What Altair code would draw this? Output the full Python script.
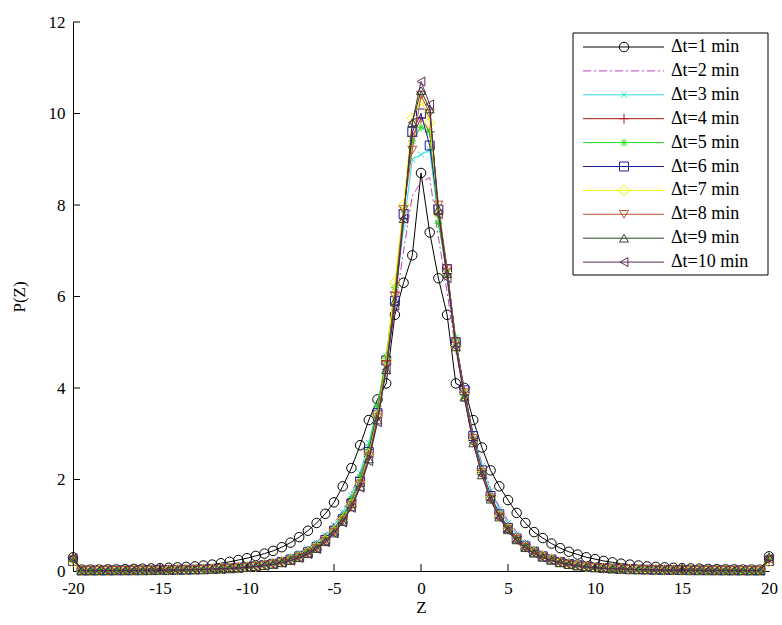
import altair as alt
import pandas as pd

Z = [-20.0, -19.5, -19.0, -18.5, -18.0, -17.5, -17.0, -16.5, -16.0, -15.5,
     -15.0, -14.5, -14.0, -13.5, -13.0, -12.5, -12.0, -11.5, -11.0, -10.5,
     -10.0, -9.5, -9.0, -8.5, -8.0, -7.5, -7.0, -6.5, -6.0, -5.5,
     -5.0, -4.5, -4.0, -3.5, -3.0, -2.5, -2.0, -1.5, -1.0, -0.5,
     0.0,
     0.5, 1.0, 1.5, 2.0, 2.5, 3.0, 3.5, 4.0, 4.5, 5.0,
     5.5, 6.0, 6.5, 7.0, 7.5, 8.0, 8.5, 9.0, 9.5, 10.0,
     10.5, 11.0, 11.5, 12.0, 12.5, 13.0, 13.5, 14.0, 14.5, 15.0,
     15.5, 16.0, 16.5, 17.0, 17.5, 18.0, 18.5, 19.0, 19.5, 20.0]

LABELS = ["Δt=1 min", "Δt=2 min", "Δt=3 min", "Δt=4 min", "Δt=5 min",
          "Δt=6 min", "Δt=7 min", "Δt=8 min", "Δt=9 min", "Δt=10 min"]

S1 = ([0.30, 0.03, 0.03, 0.03, 0.035, 0.035, 0.04, 0.045, 0.05, 0.055, 0.06, 0.07, 0.08, 0.09, 0.1, 0.12, 0.14, 0.17, 0.2, 0.24,
       0.28, 0.33, 0.38, 0.44, 0.52, 0.62, 0.74, 0.88, 1.05, 1.25, 1.5, 1.85, 2.25, 2.75, 3.3, 3.75, 4.1, 5.6, 6.3, 6.9]
      + [8.7]
      + [7.4, 6.4, 5.6, 4.1, 4.0, 3.3, 2.7, 2.2, 1.85, 1.55, 1.27, 1.05, 0.85, 0.72, 0.6, 0.5, 0.42, 0.36, 0.3, 0.26,
         0.22, 0.19, 0.16, 0.14, 0.12, 0.1, 0.09, 0.08, 0.07, 0.06, 0.055, 0.05, 0.045, 0.04, 0.035, 0.035, 0.03, 0.03, 0.03, 0.32])

S2 = ([0.26, 0.013, 0.014, 0.015, 0.015, 0.016, 0.017, 0.018, 0.02, 0.022, 0.024, 0.027, 0.03, 0.034, 0.039, 0.045, 0.052, 0.062, 0.075, 0.09,
       0.11, 0.13, 0.16, 0.2, 0.25, 0.32, 0.4, 0.5, 0.64, 0.82, 1.05, 1.32, 1.7, 2.15, 2.75, 3.5, 4.5, 5.7, 7.0, 8.2]
      + [8.5]
      + [8.6, 7.3, 6.1, 4.8, 3.9, 3.0, 2.35, 1.8, 1.4, 1.1, 0.85, 0.66, 0.52, 0.41, 0.33, 0.26, 0.21, 0.17, 0.14, 0.11,
         0.09, 0.075, 0.062, 0.052, 0.045, 0.039, 0.034, 0.03, 0.027, 0.024, 0.022, 0.02, 0.018, 0.017, 0.016, 0.015, 0.014, 0.013, 0.012, 0.27])

S3 = ([0.25, 0.012, 0.013, 0.013, 0.014, 0.015, 0.016, 0.017, 0.019, 0.021, 0.023, 0.026, 0.029, 0.033, 0.038, 0.044, 0.052, 0.062, 0.075, 0.09,
       0.11, 0.13, 0.16, 0.2, 0.25, 0.31, 0.39, 0.49, 0.62, 0.78, 1.0, 1.28, 1.65, 2.15, 2.8, 3.6, 4.6, 5.9, 7.5, 9.0]
      + [9.1]
      + [9.2, 7.7, 6.4, 5.0, 3.9, 3.0, 2.3, 1.75, 1.35, 1.05, 0.8, 0.62, 0.48, 0.37, 0.29, 0.23, 0.18, 0.14, 0.11, 0.09,
         0.075, 0.062, 0.052, 0.045, 0.039, 0.034, 0.03, 0.027, 0.024, 0.022, 0.02, 0.018, 0.017, 0.016, 0.015, 0.014, 0.013, 0.012, 0.012, 0.3])

S4 = ([0.28, 0.011, 0.012, 0.012, 0.013, 0.014, 0.015, 0.016, 0.018, 0.02, 0.022, 0.024, 0.027, 0.03, 0.034, 0.04, 0.046, 0.054, 0.065, 0.078,
       0.094, 0.115, 0.14, 0.17, 0.21, 0.27, 0.34, 0.44, 0.56, 0.72, 0.92, 1.18, 1.55, 2.05, 2.65, 3.5, 4.6, 6.1, 7.9, 9.5]
      + [9.9]
      + [9.6, 7.8, 6.6, 5.0, 3.9, 2.9, 2.2, 1.65, 1.25, 0.96, 0.73, 0.56, 0.44, 0.34, 0.27, 0.21, 0.17, 0.135, 0.105, 0.085,
         0.07, 0.058, 0.048, 0.041, 0.036, 0.031, 0.028, 0.025, 0.022, 0.02, 0.018, 0.017, 0.016, 0.015, 0.014, 0.013, 0.012, 0.011, 0.011, 0.26])

S5 = ([0.24, 0.012, 0.012, 0.013, 0.014, 0.015, 0.016, 0.017, 0.018, 0.02, 0.022, 0.025, 0.028, 0.031, 0.035, 0.041, 0.048, 0.056, 0.067, 0.08,
       0.097, 0.118, 0.145, 0.178, 0.22, 0.28, 0.35, 0.45, 0.57, 0.73, 0.93, 1.2, 1.58, 2.05, 2.7, 3.6, 4.7, 6.2, 7.9, 9.4]
      + [9.7]
      + [9.6, 7.6, 6.5, 5.1, 3.8, 2.85, 2.15, 1.62, 1.23, 0.94, 0.71, 0.55, 0.43, 0.33, 0.26, 0.2, 0.16, 0.13, 0.1, 0.082,
         0.067, 0.056, 0.047, 0.04, 0.035, 0.031, 0.027, 0.024, 0.022, 0.02, 0.018, 0.017, 0.016, 0.015, 0.014, 0.013, 0.012, 0.012, 0.011, 0.29])

S6 = ([0.22, 0.01, 0.011, 0.011, 0.012, 0.013, 0.014, 0.015, 0.016, 0.018, 0.02, 0.022, 0.025, 0.028, 0.032, 0.037, 0.043, 0.05, 0.06, 0.072,
       0.087, 0.105, 0.128, 0.157, 0.195, 0.25, 0.32, 0.41, 0.53, 0.68, 0.88, 1.13, 1.48, 1.95, 2.6, 3.45, 4.6, 5.9, 7.8, 9.6]
      + [10.0]
      + [9.3, 7.9, 6.6, 5.0, 3.95, 2.95, 2.2, 1.64, 1.24, 0.94, 0.71, 0.54, 0.42, 0.32, 0.25, 0.195, 0.155, 0.125, 0.1, 0.08,
         0.065, 0.054, 0.045, 0.039, 0.034, 0.03, 0.026, 0.023, 0.021, 0.019, 0.017, 0.016, 0.015, 0.014, 0.013, 0.012, 0.012, 0.011, 0.01, 0.22])

S7 = ([0.2, 0.01, 0.01, 0.011, 0.011, 0.012, 0.013, 0.014, 0.015, 0.017, 0.019, 0.021, 0.024, 0.027, 0.031, 0.036, 0.042, 0.049, 0.058, 0.07,
       0.085, 0.103, 0.126, 0.155, 0.192, 0.245, 0.31, 0.4, 0.52, 0.67, 0.87, 1.12, 1.46, 1.92, 2.55, 3.4, 4.6, 6.3, 8.0, 9.9]
      + [10.3]
      + [9.8, 7.8, 6.5, 4.9, 3.85, 2.85, 2.15, 1.6, 1.2, 0.92, 0.7, 0.53, 0.41, 0.32, 0.25, 0.19, 0.15, 0.12, 0.095, 0.077,
         0.063, 0.052, 0.044, 0.038, 0.033, 0.029, 0.025, 0.022, 0.02, 0.018, 0.017, 0.016, 0.015, 0.014, 0.013, 0.012, 0.011, 0.011, 0.01, 0.2])

S8 = ([0.25, 0.01, 0.011, 0.011, 0.012, 0.012, 0.013, 0.014, 0.016, 0.017, 0.019, 0.021, 0.024, 0.027, 0.031, 0.035, 0.041, 0.048, 0.057, 0.068,
       0.082, 0.1, 0.122, 0.15, 0.186, 0.235, 0.3, 0.39, 0.5, 0.65, 0.85, 1.1, 1.43, 1.9, 2.5, 3.35, 4.5, 6.0, 7.9, 9.2]
      + [10.4]
      + [10.0, 8.0, 6.6, 5.0, 3.9, 2.9, 2.15, 1.6, 1.2, 0.91, 0.69, 0.52, 0.4, 0.31, 0.24, 0.185, 0.145, 0.115, 0.092, 0.075,
         0.062, 0.051, 0.043, 0.037, 0.032, 0.028, 0.025, 0.022, 0.02, 0.018, 0.016, 0.015, 0.014, 0.013, 0.012, 0.012, 0.011, 0.01, 0.01, 0.25])

S9 = ([0.3, 0.01, 0.01, 0.011, 0.011, 0.012, 0.013, 0.014, 0.015, 0.016, 0.018, 0.02, 0.023, 0.026, 0.03, 0.034, 0.04, 0.047, 0.055, 0.066,
       0.08, 0.097, 0.118, 0.145, 0.18, 0.23, 0.29, 0.38, 0.49, 0.64, 0.83, 1.08, 1.4, 1.85, 2.45, 3.3, 4.4, 5.9, 7.7, 9.8]
      + [10.5]
      + [10.1, 7.9, 6.5, 4.9, 3.8, 2.8, 2.1, 1.57, 1.18, 0.9, 0.68, 0.51, 0.39, 0.3, 0.235, 0.18, 0.14, 0.112, 0.09, 0.073,
         0.06, 0.05, 0.042, 0.036, 0.031, 0.027, 0.024, 0.021, 0.019, 0.017, 0.016, 0.015, 0.014, 0.013, 0.012, 0.011, 0.011, 0.01, 0.01, 0.31])

S10 = ([0.28, 0.01, 0.01, 0.01, 0.011, 0.012, 0.012, 0.013, 0.014, 0.016, 0.017, 0.019, 0.022, 0.025, 0.029, 0.033, 0.039, 0.046, 0.054, 0.065,
        0.078, 0.095, 0.116, 0.143, 0.178, 0.225, 0.285, 0.37, 0.48, 0.63, 0.82, 1.06, 1.38, 1.82, 2.4, 3.25, 4.4, 5.8, 7.7, 9.8]
       + [10.7]
       + [10.2, 7.8, 6.4, 4.9, 3.75, 2.8, 2.1, 1.55, 1.16, 0.88, 0.66, 0.5, 0.38, 0.29, 0.225, 0.175, 0.137, 0.108, 0.087, 0.07,
          0.058, 0.048, 0.041, 0.035, 0.03, 0.026, 0.023, 0.021, 0.019, 0.017, 0.016, 0.015, 0.014, 0.013, 0.012, 0.011, 0.011, 0.01, 0.01, 0.27])

SERIES = [S1, S2, S3, S4, S5, S6, S7, S8, S9, S10]

X_TICKS = [-20, -15, -10, -5, 0, 5, 10, 15, 20]
Y_TICKS = [0, 2, 4, 6, 8, 10, 12]

# ---- styles ----
COLORS = ["#000000", "#c040c0", "#30dede", "#b01a1a", "#20d820",
          "#1c1c98", "#f2f200", "#c0502a", "#2a4a2a", "#5a2a5a"]
X_PATH = "M-1,-1L1,1M-1,1L1,-1"
PLUS_PATH = "M-1,0L1,0M0,-1L0,1"
STAR_PATH = "M-1,0L1,0M0,-1L0,1M-0.7,-0.7L0.7,0.7M-0.7,0.7L0.7,-0.7"
SHAPES = ["circle", None, X_PATH, PLUS_PATH, STAR_PATH,
          "square", "diamond", "triangle-down", "triangle-up", "triangle-left"]
SIZES = [90, 0, 40, 100, 64, 80, 120, 80, 80, 80]

W, H = 696, 549
FONT = "Times New Roman, Liberation Serif, serif"
NUM_EXPR = "'' + datum.value"

xscale = alt.Scale(domain=[-20, 20], nice=False, zero=False)
yscale = alt.Scale(domain=[0, 12], nice=False, zero=True)
xaxis = alt.Axis(values=X_TICKS, ticks=False, grid=False, title="Z",
                 labelExpr=NUM_EXPR,
                 labelFont=FONT, labelFontSize=17, labelColor="black",
                 labelPadding=9, titleFont=FONT, titleFontSize=17,
                 titleFontWeight="normal", titleColor="black", titlePadding=3,
                 domainColor="black", domainWidth=1, labelFlush=False)
yaxis = alt.Axis(values=Y_TICKS, ticks=False, grid=False, title="P(Z)",
                 labelExpr=NUM_EXPR,
                 labelFont=FONT, labelFontSize=17, labelColor="black",
                 labelPadding=8, titleFont=FONT, titleFontSize=17,
                 titleFontWeight="normal", titleColor="black", titlePadding=20,
                 domainColor="black", domainWidth=1, labelFlush=False)

layers = []
for k, (lab, vals) in enumerate(zip(LABELS, SERIES)):
    assert len(vals) == len(Z), (lab, len(vals))
    d = pd.DataFrame({"z": Z, "p": vals, "series": lab})
    enc = dict(x=alt.X("z:Q", scale=xscale, axis=xaxis),
               y=alt.Y("p:Q", scale=yscale, axis=yaxis))
    line_kwargs = dict(color=COLORS[k], strokeWidth=1, clip=False)
    if k == 1:
        line_kwargs["strokeDash"] = [8, 3, 2, 3]
    layers.append(alt.Chart(d).mark_line(**line_kwargs).encode(**enc))
    if SHAPES[k] is not None:
        layers.append(alt.Chart(d).mark_point(shape=SHAPES[k], filled=False,
                                              color=COLORS[k], size=SIZES[k],
                                              strokeWidth=1, opacity=1, clip=False)
                      .encode(**enc))

# inward ticks (MATLAB style)
yt = pd.DataFrame({"v": Y_TICKS[1:]})
xt = pd.DataFrame({"v": X_TICKS[1:-1]})
layers.append(alt.Chart(yt).mark_rule(color="black", strokeWidth=1).encode(
    y=alt.Y("v:Q", scale=yscale, axis=yaxis), x=alt.value(0), x2=alt.value(7)))
layers.append(alt.Chart(xt).mark_rule(color="black", strokeWidth=1).encode(
    x=alt.X("v:Q", scale=xscale, axis=xaxis), y=alt.value(H), y2=alt.value(H - 7)))

# legend box (plot-area pixel layout)
LX0, LX1, LY0, LY1 = 500, 695, 11, 253
ROW0, ROWSTEP = 25, 23.9
one = pd.DataFrame({"a": [0]})
layers.append(alt.Chart(one).mark_rect(fill="white", stroke="black", strokeWidth=1).encode(
    x=alt.value(LX0), x2=alt.value(LX1), y=alt.value(LY0), y2=alt.value(LY1)))
for k, lab in enumerate(LABELS):
    py = ROW0 + ROWSTEP * k
    rk = dict(color=COLORS[k], strokeWidth=1)
    if k == 1:
        rk["strokeDash"] = [8, 3, 2, 3]
    layers.append(alt.Chart(one).mark_rule(**rk).encode(
        x=alt.value(510), x2=alt.value(591), y=alt.value(py)))
    if SHAPES[k] is not None:
        layers.append(alt.Chart(one).mark_point(shape=SHAPES[k], filled=False,
                                                color=COLORS[k], size=SIZES[k],
                                                strokeWidth=1, opacity=1).encode(
            x=alt.value(551), y=alt.value(py)))
    layers.append(alt.Chart(pd.DataFrame({"t": [lab]})).mark_text(
        align="left", baseline="middle", font=FONT, fontSize=18, color="black").encode(
        x=alt.value(598), y=alt.value(py), text="t:N"))

chart = alt.layer(*layers).properties(
    width=W, height=H,
    autosize=alt.AutoSizeParams(type="none"),
    padding={"left": 73, "top": 22, "right": 13, "bottom": 54},
    background="white",
).configure_view(stroke=None)

chart.save("out.html", embed_options={"renderer": "svg", "actions": False})
